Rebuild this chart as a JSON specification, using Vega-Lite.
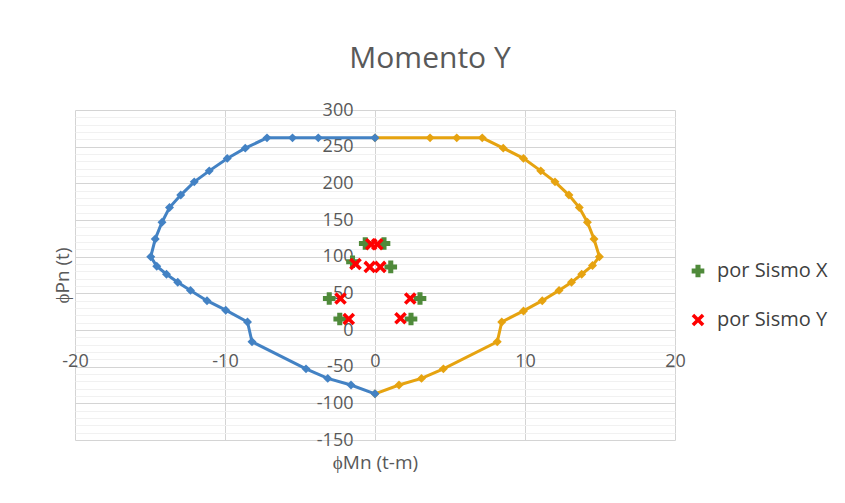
{
  "$schema": "https://vega.github.io/schema/vega-lite/v6.json",
  "width": 600,
  "height": 330,
  "autosize": {"type": "none"},
  "padding": {"left": 75, "top": 110, "right": 170, "bottom": 63},
  "background": "white",
  "config": {
    "font": "Open Sans",
    "view": {"stroke": null},
    "axis": {"labelFont": "Open Sans", "titleFont": "Open Sans"}
  },
  "title": {
    "text": "Momento Y",
    "fontSize": 30,
    "fontWeight": "normal",
    "color": "#595959",
    "font": "Open Sans",
    "anchor": "middle",
    "frame": "group",
    "dx": 55,
    "baseline": "bottom",
    "offset": -3
  },
  "datasets": {
    "curva": [
      {"lado": "der", "orden": 1, "m": 0, "p": 262},
      {"lado": "der", "orden": 2, "m": 3.67, "p": 262},
      {"lado": "der", "orden": 3, "m": 5.45, "p": 262},
      {"lado": "der", "orden": 4, "m": 7.15, "p": 262},
      {"lado": "der", "orden": 5, "m": 8.55, "p": 248},
      {"lado": "der", "orden": 6, "m": 9.9, "p": 234},
      {"lado": "der", "orden": 7, "m": 11.05, "p": 217},
      {"lado": "der", "orden": 8, "m": 12.0, "p": 202},
      {"lado": "der", "orden": 9, "m": 12.93, "p": 184},
      {"lado": "der", "orden": 10, "m": 13.62, "p": 167},
      {"lado": "der", "orden": 11, "m": 14.16, "p": 147},
      {"lado": "der", "orden": 12, "m": 14.6, "p": 124},
      {"lado": "der", "orden": 13, "m": 14.96, "p": 100},
      {"lado": "der", "orden": 14, "m": 14.5, "p": 88},
      {"lado": "der", "orden": 15, "m": 13.78, "p": 76},
      {"lado": "der", "orden": 16, "m": 13.1, "p": 65},
      {"lado": "der", "orden": 17, "m": 12.27, "p": 54},
      {"lado": "der", "orden": 18, "m": 11.15, "p": 40},
      {"lado": "der", "orden": 19, "m": 9.9, "p": 26},
      {"lado": "der", "orden": 20, "m": 8.45, "p": 11},
      {"lado": "der", "orden": 21, "m": 8.15, "p": -16},
      {"lado": "der", "orden": 22, "m": 4.56, "p": -53},
      {"lado": "der", "orden": 23, "m": 3.1, "p": -66},
      {"lado": "der", "orden": 24, "m": 1.6, "p": -75},
      {"lado": "der", "orden": 25, "m": 0, "p": -87},
      {"lado": "izq", "orden": 1, "m": 0, "p": 262},
      {"lado": "izq", "orden": 2, "m": -3.78, "p": 262},
      {"lado": "izq", "orden": 3, "m": -5.5, "p": 262},
      {"lado": "izq", "orden": 4, "m": -7.2, "p": 262},
      {"lado": "izq", "orden": 5, "m": -8.65, "p": 248},
      {"lado": "izq", "orden": 6, "m": -9.85, "p": 234},
      {"lado": "izq", "orden": 7, "m": -11.05, "p": 217},
      {"lado": "izq", "orden": 8, "m": -12.05, "p": 202},
      {"lado": "izq", "orden": 9, "m": -12.95, "p": 184},
      {"lado": "izq", "orden": 10, "m": -13.7, "p": 167},
      {"lado": "izq", "orden": 11, "m": -14.2, "p": 147},
      {"lado": "izq", "orden": 12, "m": -14.65, "p": 124},
      {"lado": "izq", "orden": 13, "m": -14.95, "p": 100},
      {"lado": "izq", "orden": 14, "m": -14.55, "p": 87},
      {"lado": "izq", "orden": 15, "m": -13.9, "p": 76},
      {"lado": "izq", "orden": 16, "m": -13.15, "p": 65},
      {"lado": "izq", "orden": 17, "m": -12.3, "p": 54},
      {"lado": "izq", "orden": 18, "m": -11.2, "p": 40},
      {"lado": "izq", "orden": 19, "m": -9.95, "p": 27},
      {"lado": "izq", "orden": 20, "m": -8.5, "p": 11},
      {"lado": "izq", "orden": 21, "m": -8.2, "p": -16},
      {"lado": "izq", "orden": 22, "m": -4.6, "p": -53},
      {"lado": "izq", "orden": 23, "m": -3.15, "p": -66},
      {"lado": "izq", "orden": 24, "m": -1.6, "p": -75},
      {"lado": "izq", "orden": 25, "m": 0, "p": -87}
    ],
    "cargas": [
      {"serie": "por Sismo X", "m": -0.65, "p": 118},
      {"serie": "por Sismo X", "m": 0.6, "p": 118},
      {"serie": "por Sismo X", "m": -1.5, "p": 93},
      {"serie": "por Sismo X", "m": 1.05, "p": 86},
      {"serie": "por Sismo X", "m": -3.05, "p": 43},
      {"serie": "por Sismo X", "m": 3.0, "p": 43},
      {"serie": "por Sismo X", "m": -2.35, "p": 15},
      {"serie": "por Sismo X", "m": 2.4, "p": 15},
      {"serie": "por Sismo Y", "m": -0.25, "p": 117},
      {"serie": "por Sismo Y", "m": 0.15, "p": 117},
      {"serie": "por Sismo Y", "m": -1.3, "p": 90},
      {"serie": "por Sismo Y", "m": -0.35, "p": 86},
      {"serie": "por Sismo Y", "m": 0.35, "p": 86},
      {"serie": "por Sismo Y", "m": -2.3, "p": 43},
      {"serie": "por Sismo Y", "m": 2.35, "p": 43},
      {"serie": "por Sismo Y", "m": -1.75, "p": 15},
      {"serie": "por Sismo Y", "m": 1.7, "p": 16}
    ]
  },
  "layer": [
    {
      "data": {"name": "curva"},
      "transform": [{"filter": "datum.lado === 'der'"}],
      "mark": {"type": "line", "color": "#e6a310", "strokeWidth": 3, "point": {"shape": "diamond", "size": 80, "color": "#e6a310", "filled": true}},
      "encoding": {
        "x": {
          "field": "m", "type": "quantitative",
          "scale": {"domain": [-20, 20], "nice": false, "zero": false},
          "axis": {
            "title": "ϕMn (t-m)",
            "values": [-20, -10, 0, 10, 20],
            "tickCount": 100,
            "labelExpr": "'' + datum.value",
            "offset": -110,
            "domain": false, "ticks": false, "tickSize": 0,
            "labelPadding": 22, "labelFontSize": 18, "labelColor": "#595959",
            "labelFlush": false, "labelOverlap": false,
            "gridColor": "#d4d4d4", "gridWidth": 1,
            "titleFontSize": 19, "titleFontWeight": "normal", "titleColor": "#595959",
            "titleY": 132, "titleBaseline": "middle"
          }
        },
        "y": {
          "field": "p", "type": "quantitative",
          "scale": {"domain": [-150, 300], "nice": false, "zero": false},
          "axis": {
            "title": "ϕPn (t)",
            "values": [-150,-140,-130,-120,-110,-100,-90,-80,-70,-60,-50,-40,-30,-20,-10,0,10,20,30,40,50,60,70,80,90,100,110,120,130,140,150,160,170,180,190,200,210,220,230,240,250,260,270,280,290,300],
            "tickCount": 100,
            "labelExpr": "datum.value % 50 === 0 ? '' + datum.value : ''",
            "offset": -300,
            "domain": false, "ticks": false, "tickSize": 0,
            "labelPadding": 22, "labelFontSize": 18, "labelColor": "#595959",
            "labelFlush": false, "labelOverlap": false,
            "gridColor": {"condition": {"test": "datum.value % 50 === 0", "value": "#d4d4d4"}, "value": "#f1f1f1"},
            "gridWidth": 1,
            "titleFontSize": 19, "titleFontWeight": "normal", "titleColor": "#595959",
            "titleX": -313, "titleBaseline": "middle"
          }
        },
        "order": {"field": "orden", "type": "quantitative"}
      }
    },
    {
      "data": {"name": "curva"},
      "transform": [{"filter": "datum.lado === 'izq'"}],
      "mark": {"type": "line", "color": "#4382c4", "strokeWidth": 3, "point": {"shape": "diamond", "size": 80, "color": "#4382c4", "filled": true}},
      "encoding": {
        "x": {"field": "m", "type": "quantitative"},
        "y": {"field": "p", "type": "quantitative"},
        "order": {"field": "orden", "type": "quantitative"}
      }
    },
    {
      "data": {"name": "cargas"},
      "mark": {"type": "point", "filled": true, "size": 160, "opacity": 1, "strokeWidth": 0},
      "encoding": {
        "x": {"field": "m", "type": "quantitative"},
        "y": {"field": "p", "type": "quantitative"},
        "color": {
          "field": "serie", "type": "nominal",
          "scale": {"domain": ["por Sismo X", "por Sismo Y"], "range": ["#4f8a3a", "#ff0000"]},
          "legend": {
            "title": null, "orient": "none", "legendX": 613, "legendY": 151,
            "padding": 0, "rowPadding": 29, "labelFontSize": 20, "labelColor": "#404040",
            "labelFont": "Open Sans", "labelOffset": 9, "symbolSize": 160, "symbolStrokeWidth": 0
          }
        },
        "shape": {
          "field": "serie", "type": "nominal",
          "scale": {"domain": ["por Sismo X", "por Sismo Y"], "range": ["cross", "M-1,-0.6L-0.6,-1L0,-0.4L0.6,-1L1,-0.6L0.4,0L1,0.6L0.6,1L0,0.4L-0.6,1L-1,0.6L-0.4,0Z"]},
          "legend": null
        }
      }
    }
  ]
}
